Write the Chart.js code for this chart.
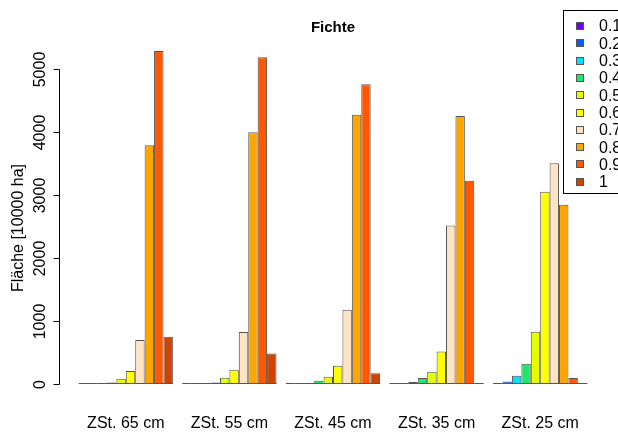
<!DOCTYPE html>
<html>
<head>
<meta charset="utf-8">
<script src="https://cdn.jsdelivr.net/npm/chart.js@4/dist/chart.umd.min.js"></script>
<style>
  body { margin: 0; background: #fff; }
  canvas { display: block; }
</style>
</head>
<body>
<canvas id="graph" width="618" height="433"></canvas>
<script>
// categories on the x-axis
const categories = ['ZSt. 65 cm', 'ZSt. 55 cm', 'ZSt. 45 cm', 'ZSt. 35 cm', 'ZSt. 25 cm'];
// series names (legend)
const seriesNames = ['0.1', '0.2', '0.3', '0.4', '0.5', '0.6', '0.7', '0.8', '0.9', '1'];
// values per series, one per category
const s01 = [1, 1, 2, 3, 4];
const s02 = [3, 3, 5, 8, 40];
const s03 = [8, 6, 14, 32, 130];
const s04 = [25, 25, 50, 95, 320];
const s05 = [85, 100, 115, 195, 830];
const s06 = [205, 225, 290, 515, 3055];
const s07 = [700, 825, 1180, 2520, 3510];
const s08 = [3795, 4000, 4280, 4260, 2850];
const s09 = [5295, 5195, 4765, 3230, 95];
const s10 = [750, 485, 170, 0, 0];
const seriesValues = [s01, s02, s03, s04, s05, s06, s07, s08, s09, s10];
// y-axis tick labels
const yTicks = [0, 1000, 2000, 3000, 4000, 5000];

const colors = ['#6a00ff', '#0a5cff', '#00e0ff', '#1ee86a', '#e5ff00',
                '#ffff00', '#ffe4c4', '#ffa500', '#ff5800', '#cc4400'];
const edge = '#555';
const fontFam = '"Liberation Sans", Arial, Helvetica, sans-serif';

// datasets from the arrays above
var datasets = [];
for(var k = 0; k < seriesNames.length; k++){
    datasets.push({
        label: seriesNames[k],
        data: seriesValues[k],
        backgroundColor: colors[k],
        borderColor: edge,
        borderWidth: 1,
        borderSkipped: false,
        barPercentage: 1,
        categoryPercentage: 10 / 11
    });
}

// R style decorations: baseline under bars, y-axis, legend box
const rStyle = {
    id: 'rStyle',
    afterDatasetsDraw: function(chart){
        var ctx = chart.ctx;
        ctx.save();
        ctx.strokeStyle = edge;
        ctx.lineWidth = 1;
        // bottom edge of every bar (so zero bars still show a line)
        chart.data.datasets.forEach(function(ds, i){
            chart.getDatasetMeta(i).data.forEach(function(bar){
                var y = Math.round(bar.base) - 0.5;
                ctx.beginPath();
                ctx.moveTo(bar.x - bar.width / 2, y);
                ctx.lineTo(bar.x + bar.width / 2, y);
                ctx.stroke();
            });
        });
        ctx.restore();
    },
    afterDraw: function(chart){
        var ctx = chart.ctx;
        var yScale = chart.scales.y;
        ctx.save();
        // y-axis
        var ax = 59.5;
        ctx.strokeStyle = '#000';
        ctx.lineWidth = 1;
        ctx.beginPath();
        ctx.moveTo(ax, Math.round(yScale.getPixelForValue(yTicks[0])) + 0.5);
        ctx.lineTo(ax, Math.round(yScale.getPixelForValue(yTicks[yTicks.length - 1])) + 0.5);
        ctx.stroke();
        ctx.fillStyle = '#000';
        ctx.font = '16px ' + fontFam;
        ctx.textAlign = 'center';
        ctx.textBaseline = 'middle';
        yTicks.forEach(function(v){
            var py = Math.round(yScale.getPixelForValue(v)) + 0.5;
            ctx.beginPath();
            ctx.moveTo(ax - 6, py);
            ctx.lineTo(ax, py);
            ctx.stroke();
            ctx.save();
            ctx.translate(41, py);
            ctx.rotate(-Math.PI / 2);
            ctx.fillText(String(v), 0, 0);
            ctx.restore();
        });
        // y-axis title
        ctx.save();
        ctx.translate(19, 228);
        ctx.rotate(-Math.PI / 2);
        ctx.fillText('Fläche [10000 ha]', 0, 0);
        ctx.restore();
        // legend
        ctx.strokeStyle = '#000';
        ctx.strokeRect(563.5, 10.5, 70, 183);
        ctx.font = '16px ' + fontFam;
        ctx.textAlign = 'left';
        chart.data.datasets.forEach(function(ds, i){
            var cy = 26 + i * 17.3;
            ctx.fillStyle = ds.backgroundColor;
            ctx.fillRect(576, Math.round(cy - 4), 8, 8);
            ctx.strokeStyle = edge;
            ctx.strokeRect(576.5, Math.round(cy - 4) + 0.5, 7, 7);
            ctx.fillStyle = '#000';
            ctx.fillText(ds.label, 599, cy + 1);
        });
        ctx.restore();
    }
};

var ctx = document.getElementById('graph').getContext('2d');
var graph = new Chart(ctx, {
    type: 'bar',
    data: {
        labels: categories,
        datasets: datasets
    },
    options: {
        responsive: false,
        animation: false,
        devicePixelRatio: 1,
        layout: {
            padding: { left: 74, right: 26, top: 19, bottom: 0 }
        },
        scales: {
            x: {
                grid: { display: false, drawTicks: false },
                border: { display: false },
                ticks: {
                    color: '#000',
                    padding: 30,
                    font: { family: fontFam, size: 16 }
                },
                // keep the axis band fixed so the plot bottom sits at y=384
                afterFit: function(scale){
                    scale.height = 49;
                }
            },
            y: {
                display: false,
                min: 0,
                max: 5500
            }
        },
        plugins: {
            legend: { display: false },
            tooltip: { enabled: false },
            title: {
                display: true,
                text: 'Fichte',
                fullSize: false,
                color: '#000',
                padding: { top: 0, bottom: 1 },
                font: { family: fontFam, size: 15, weight: 'bold' }
            }
        }
    },
    plugins: [rStyle]
});
</script>
</body>
</html>
